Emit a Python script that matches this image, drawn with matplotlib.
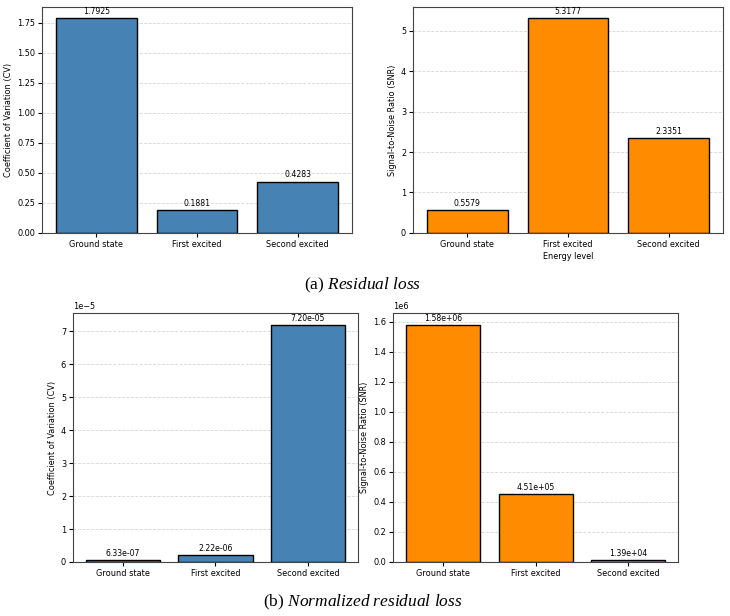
import numpy as np
import matplotlib
matplotlib.use('Agg')
import matplotlib.pyplot as plt

plt.rcParams['font.size'] = 5.9
plt.rcParams['mathtext.fontset'] = 'custom'
plt.rcParams['mathtext.rm'] = 'Liberation Serif'
plt.rcParams['mathtext.it'] = 'Liberation Serif:italic'

levels = ['Ground state', 'First excited', 'Second excited']
cv = [1.7925, 0.1881, 0.4283]
snr = [0.5579, 5.3177, 2.3351]
cv_norm = [6.33e-07, 2.22e-06, 7.20e-05]
snr_norm = [1.58e+06, 4.51e+05, 1.39e+04]

fig = plt.figure(figsize=(7.3, 6.16), dpi=100)

ax1 = fig.add_axes([0.0575, 0.6218, 0.4247, 0.3669])
ax2 = fig.add_axes([0.5658, 0.6218, 0.4247, 0.3669])
ax3 = fig.add_axes([0.1, 0.0877, 0.3904, 0.4042])
ax4 = fig.add_axes([0.5384, 0.0877, 0.3904, 0.4042])

def draw(ax, vals, color, ylabel, fmt, xlabel=None):
    x = np.arange(len(levels))
    bars = ax.bar(x, vals, width=0.8, color=color, edgecolor='black', linewidth=1)
    ax.set_xticks(x)
    ax.set_xticklabels(levels)
    ax.set_ylabel(ylabel, labelpad=3)
    if xlabel:
        ax.set_xlabel(xlabel, labelpad=2)
    ax.grid(axis='y', linestyle='--', linewidth=0.6, alpha=0.5)
    ax.set_axisbelow(True)
    ax.tick_params(length=3, pad=2)
    for b, v in zip(bars, vals):
        ax.annotate(fmt.format(v), (b.get_x() + b.get_width() / 2, v),
                    xytext=(0, 1.5), textcoords='offset points',
                    ha='center', va='bottom', fontsize=5.6)
    for s in ax.spines.values():
        s.set_color('#444444')

draw(ax1, cv, 'steelblue', 'Coefficient of Variation (CV)', '{:.4f}')
draw(ax2, snr, 'darkorange', 'Signal-to-Noise Ratio (SNR)', '{:.4f}', 'Energy level')
draw(ax3, cv_norm, 'steelblue', 'Coefficient of Variation (CV)', '{:.2e}')
draw(ax4, snr_norm, 'darkorange', 'Signal-to-Noise Ratio (SNR)', '{:.2e}')
ax1.set_ylim(0, 1.882)

fig.text(363 / 730, 1 - 285 / 616, r'(a) $\mathit{Residual\ loss}$', ha='center', va='center',
         family='Liberation Serif', fontsize=12.5)
fig.text(363 / 730, 1 - 602 / 616, r'(b) $\mathit{Normalized\ residual\ loss}$', ha='center', va='center',
         family='Liberation Serif', fontsize=12.5)

fig.savefig('out.png', dpi=100)
